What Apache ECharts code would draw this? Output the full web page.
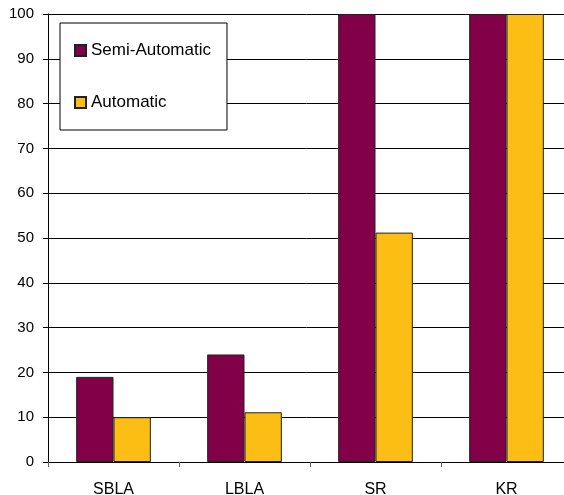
<!DOCTYPE html>
<html><head><meta charset="utf-8">
<script src="https://cdn.jsdelivr.net/npm/echarts@6/dist/echarts.min.js"></script>
<style>html,body{margin:0;padding:0;background:#fff}#c{width:564px;height:495px}</style>
</head><body><div id="c"></div>
<script>
const categories = ['SBLA', 'LBLA', 'SR', 'KR'];
const semiAutomatic = [19, 24, 100, 100];
const automatic = [10, 11.1, 51.2, 100];
const yTicks = { min: 0, max: 100, interval: 10 };

const chart = echarts.init(document.getElementById('c'), null, { renderer: 'canvas' });
const font = 'Liberation Sans, Arial, sans-serif';
chart.setOption({
  animation: false,
  backgroundColor: '#fff',
  grid: { left: 48, right: -8, top: 14, bottom: 33, containLabel: false, outerBoundsMode: 'none' },
  legend: {
    orient: 'vertical', left: 60, top: 23,
    padding: [19, 16, 19, 14], itemGap: 35,
    itemWidth: 11, itemHeight: 11,
    borderColor: '#000', borderWidth: 1, backgroundColor: '#fff',
    textStyle: { fontFamily: font, fontSize: 17, color: '#000', lineHeight: 17 },
    data: [
      { name: 'Semi-Automatic', icon: 'rect' },
      { name: 'Automatic', icon: 'rect' }
    ]
  },
  xAxis: {
    type: 'category', data: categories,
    axisLine: { lineStyle: { color: '#000', width: 1 } },
    axisTick: { show: true, length: 5, lineStyle: { color: '#666' } },
    axisLabel: { fontFamily: font, fontSize: 16, color: '#000', margin: 20 }
  },
  yAxis: {
    type: 'value', min: yTicks.min, max: yTicks.max, interval: yTicks.interval,
    axisLine: { show: true, lineStyle: { color: '#000', width: 1 } },
    axisTick: { show: true, length: 5, lineStyle: { color: '#000' } },
    axisLabel: { fontFamily: font, fontSize: 15, color: '#000', margin: 14 },
    splitLine: { show: true, lineStyle: { color: '#000', width: 1 } }
  },
  series: [
    { name: 'Semi-Automatic', type: 'bar', data: semiAutomatic, barGap: '0%', barCategoryGap: '43%',
      itemStyle: { color: '#820048', borderColor: '#222', borderWidth: 1 } },
    { name: 'Automatic', type: 'bar', data: automatic, barGap: '0%', barCategoryGap: '43%',
      itemStyle: { color: '#FCBE14', borderColor: '#222', borderWidth: 1 } }
  ]
});
</script></body></html>
